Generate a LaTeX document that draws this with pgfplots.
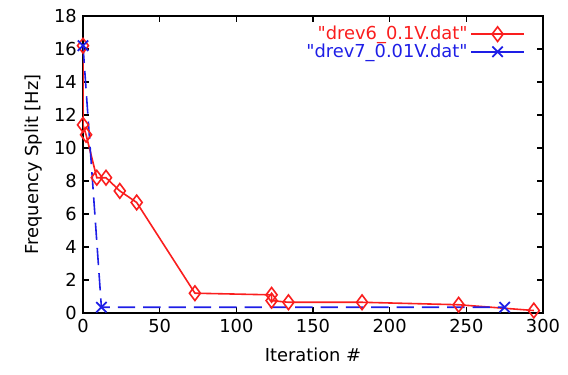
\documentclass[border=0pt]{standalone}
\usepackage{pgfplots}
\pgfplotsset{compat=1.18}
\usepackage{fontspec}
\setmainfont{DejaVu Sans}
\newfontfamily\qfont{DejaVu Sans}
\newcommand{\q}{{\qfont"}}
\definecolor{gred}{RGB}{250,30,30}
\definecolor{gblue}{RGB}{30,30,230}
\begin{document}
\fontsize{13.4}{16}\selectfont
\begin{tikzpicture}
\path[use as bounding box] (-62.25pt,-46.5pt) rectangle (363.75pt,234.75pt);
\begin{axis}[
  at={(0,0)}, anchor=south west,
  width=345pt, height=222.75pt, scale only axis,
  xmin=0, xmax=300, ymin=0, ymax=18,
  xtick={0,50,...,300}, ytick={0,2,...,18},
  tick align=inside, major tick length=4.5pt,
  axis line style={line width=1.3pt}, every tick/.style={black, line width=1.1pt},
  /pgf/number format/assume math mode=true,
  tick label style={font=\fontsize{13.4}{16}\selectfont},
  label style={font=\fontsize{13.4}{16}\selectfont},
  xlabel={Iteration \#}, ylabel={Frequency Split [Hz]},
  xlabel style={yshift=-2pt}, ylabel style={yshift=0pt},
  legend plot pos=right, legend cell align=right,
  legend style={draw=none, fill=none, at={(0.97,0.985)}, anchor=north east,
    font=\fontsize{13.4}{14}\selectfont, row sep=-3pt},
  legend image code/.code={
    \draw[solid, mark repeat=2,mark phase=2] plot coordinates {(0cm,0cm) (0.7cm,0cm) (1.4cm,0cm)};
  },
]
\addplot[gred, line width=1.2pt, mark=diamond, mark size=5.5pt, mark options={solid, line width=1.2pt}] coordinates {
(0,16.2) (0,11.4) (2,10.8) (9,8.2) (15,8.2) (24,7.4) (35,6.7) (73,1.2) (123,1.1) (123,0.75) (134,0.65) (182,0.65) (245,0.5) (294,0.15)
};
\addlegendentry{\textcolor{gred}{\q drev6\_0.1V.dat\q}}
\addplot[gblue, line width=1.2pt, dash pattern=on 13pt off 6pt, mark=x, mark size=5.5pt, mark options={solid, line width=1.3pt}] coordinates {
(0,16.2) (12,0.35) (275,0.35)
};
\addlegendentry{\textcolor{gblue}{\q drev7\_0.01V.dat\q}}
\end{axis}
\end{tikzpicture}
\end{document}
